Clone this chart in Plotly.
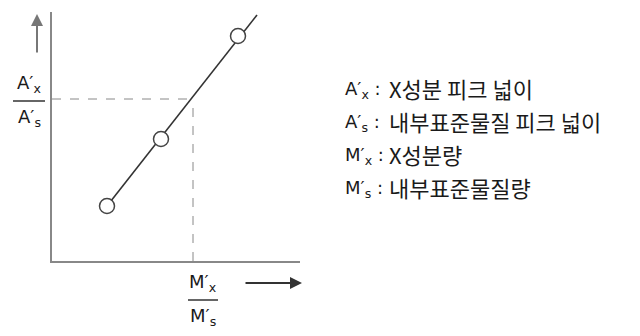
import plotly.graph_objects as go

# calibration points (ratio of amounts vs ratio of peak areas), arbitrary units
amount_ratio = [2.75, 5.45, 9.3]
area_ratio = [2.75, 6.1, 11.25]

# drawn calibration line ends
line_x = [2.75, 10.25]
line_y = [2.75, 12.3]

# unknown sample
unknown_x = 7.05
unknown_y = 8.1

legend_syms = ["A′<sub>x</sub> :", "A′<sub>s</sub> :", "M′<sub>x</sub> :", "M′<sub>s</sub> :"]
legend_desc = ["X성분 피크 넓이", "내부표준물질 피크 넓이", "X성분량", "내부표준물질량"]

# page has an 8px body margin, so the figure itself is a bit smaller
OFF = 8
W, H = 640 - OFF, 336 - OFF
PL, PR, PT, PB = 52, 300, 12, 261   # plot box in page pixels
XMAX, YMAX = 12.4, 12.45


def px(x):
    return (x - PL) / (PR - PL)


def py(y):
    return (PB - y) / (PB - PT)


LAT = "DejaVu Sans, Noto Sans CJK KR"
KR = "Noto Sans CJK KR"
INK = "#1a1a1a"

fig = go.Figure()
fig.add_trace(go.Scatter(x=line_x, y=line_y, mode="lines",
                         line=dict(color="#333333", width=1.6),
                         hoverinfo="skip", cliponaxis=False))
fig.add_trace(go.Scatter(x=amount_ratio, y=area_ratio, mode="markers",
                         marker=dict(size=15, color="white",
                                     line=dict(color="#444444", width=1.5)),
                         hoverinfo="skip", cliponaxis=False))

# dashed guides to the unknown
fig.add_shape(type="line", x0=0, x1=unknown_x, y0=unknown_y, y1=unknown_y,
              line=dict(color="#888888", width=1, dash="dash"))
fig.add_shape(type="line", x0=unknown_x, x1=unknown_x, y0=0, y1=unknown_y,
              line=dict(color="#888888", width=1, dash="dash"))

# direction arrows
fig.add_annotation(xref="paper", yref="paper", x=px(37), y=py(14), ax=0, ay=40,
                   text="", showarrow=True, arrowhead=2, arrowsize=1.2,
                   arrowwidth=2, arrowcolor="#777777")
fig.add_annotation(xref="paper", yref="paper", x=px(302), y=py(283), ax=-58, ay=0,
                   text="", showarrow=True, arrowhead=2, arrowsize=1.2,
                   arrowwidth=2, arrowcolor="#333333")


def label(x, y, text, family=LAT, size=18, xanchor="center"):
    fig.add_annotation(xref="paper", yref="paper", x=px(x), y=py(y), text=text,
                       xanchor=xanchor, yanchor="middle", showarrow=False,
                       font=dict(family=family, size=size, color=INK))


def frac(cx, cy, top, bot, half):
    label(cx, cy - 17, top)
    label(cx, cy + 17, bot)
    fig.add_shape(type="line", xref="paper", yref="paper",
                  x0=px(cx - half), x1=px(cx + half), y0=py(cy), y1=py(cy),
                  line=dict(color="#333333", width=1.5))


frac(29, 101, "A′<sub>x</sub>", "A′<sub>s</sub>", 16)
frac(203, 300, "M′<sub>x</sub>", "M′<sub>s</sub>", 15)

for i, (sym, desc) in enumerate(zip(legend_syms, legend_desc)):
    y = 88 + 33 * i
    label(343, y + 2, sym, xanchor="left")
    label(387, y, desc, family=KR, size=22, xanchor="left")

fig.update_xaxes(range=[0, XMAX], showline=True, linecolor="#888888", linewidth=2,
                 showgrid=False, zeroline=False, showticklabels=False, ticks="")
fig.update_yaxes(range=[0, YMAX], showline=True, linecolor="#888888", linewidth=2,
                 showgrid=False, zeroline=False, showticklabels=False, ticks="")
fig.update_layout(width=W, height=H,
                  margin=dict(l=PL - OFF, r=W - (PR - OFF), t=PT - OFF, b=H - (PB - OFF)),
                  plot_bgcolor="white", paper_bgcolor="white", showlegend=False)

fig.write_html("out.html")
